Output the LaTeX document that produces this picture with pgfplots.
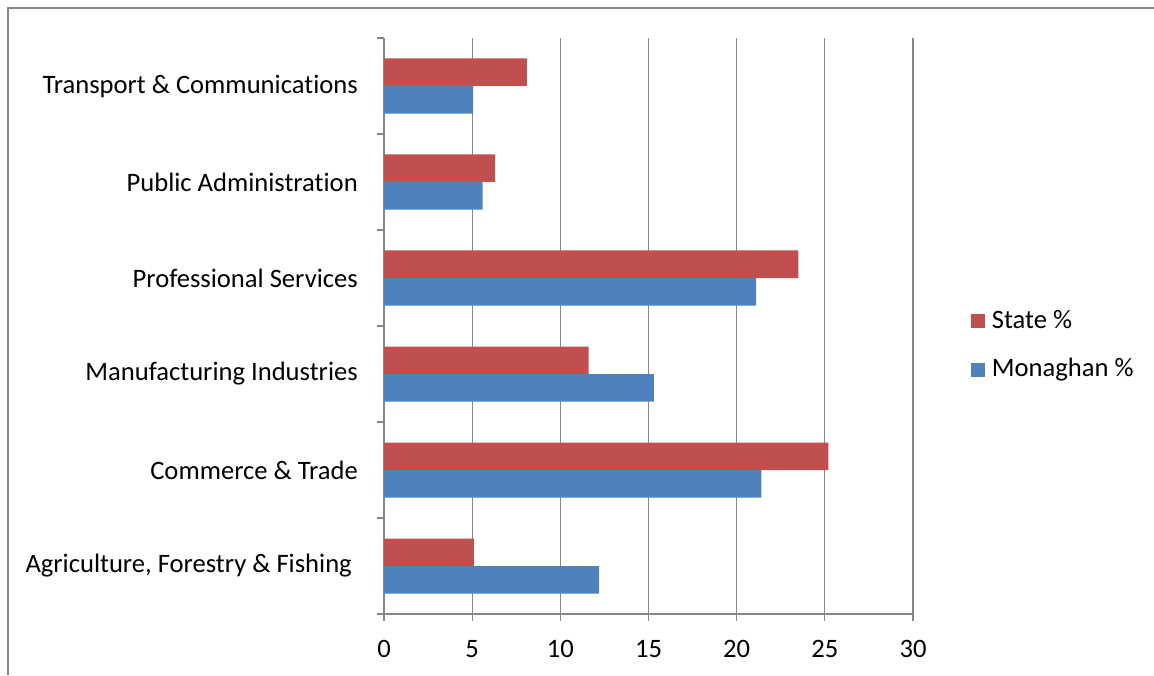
\documentclass[border=0pt]{standalone}
\usepackage{pgfplots}
\pgfplotsset{compat=1.18}
\usepackage{fontspec}
\setmainfont{Carlito}[Ligatures={NoCommon}]
\definecolor{stateRed}{HTML}{C0504D}
\definecolor{monBlue}{HTML}{4F81BD}
\definecolor{gridgray}{HTML}{878787}
\newcommand{\lblfont}{\fontsize{26.6}{31}\selectfont}
\begin{document}
\lblfont
\begin{tikzpicture}[x=1pt,y=1pt]
\useasboundingbox (0,0) rectangle (1154,675);
\draw[gridgray, line width=1.3pt] (8,0) -- (8,667) -- (1154,667);
\begin{axis}[
  at={(384pt,61pt)}, anchor=south west,
  scale only axis, width=529pt, height=576pt,
  xmin=0, xmax=30, ymin=-0.5, ymax=5.5,
  xtick={0,5,...,30},
  ytick={0,...,5},
  yticklabels={{Agriculture, Forestry \& Fishing\kern6pt},{Commerce \& Trade},{Manufacturing Industries},{Professional Services},{Public Administration},{Transport \& Communications}},
  minor ytick={-0.5,0.5,...,5.5},
  xmajorgrids, major grid style={gridgray, line width=1.1pt},
  axis x line=bottom, axis y line=left,
  axis line style={-, gridgray, line width=1.1pt},
  tick align=outside, major tick length=7pt, minor tick length=7pt,
  every tick/.style={gridgray, line width=1.1pt},
  every major y tick/.append style={draw=none},
  every tick label/.append style={font=\lblfont},
  /pgf/number format/assume math mode=true,
  y tick label style={anchor=east, inner sep=0pt, xshift=-19pt},
  x tick label style={anchor=north, inner sep=0pt, yshift=-19pt},
  xbar, bar width=27.5pt,
  legend style={at={(1.109,0.466)}, anchor=west, draw=none, fill=none,
    font=\lblfont, row sep=22pt, inner sep=0pt},
  legend cell align=left,
  legend image code/.code={\draw[#1,draw=none] (0pt,-7pt) rectangle (14pt,7pt); \path (19pt,0pt);},
]
\addplot[fill=stateRed, draw=none, bar shift=13.75pt] coordinates {(5.1,0) (25.2,1) (11.6,2) (23.5,3) (6.3,4) (8.1,5)};
\addlegendentry{State \%}
\addplot[fill=monBlue, draw=none, bar shift=-13.75pt] coordinates {(12.2,0) (21.4,1) (15.3,2) (21.1,3) (5.6,4) (5.05,5)};
\addlegendentry{Monaghan \%}
\end{axis}
\end{tikzpicture}
\end{document}
